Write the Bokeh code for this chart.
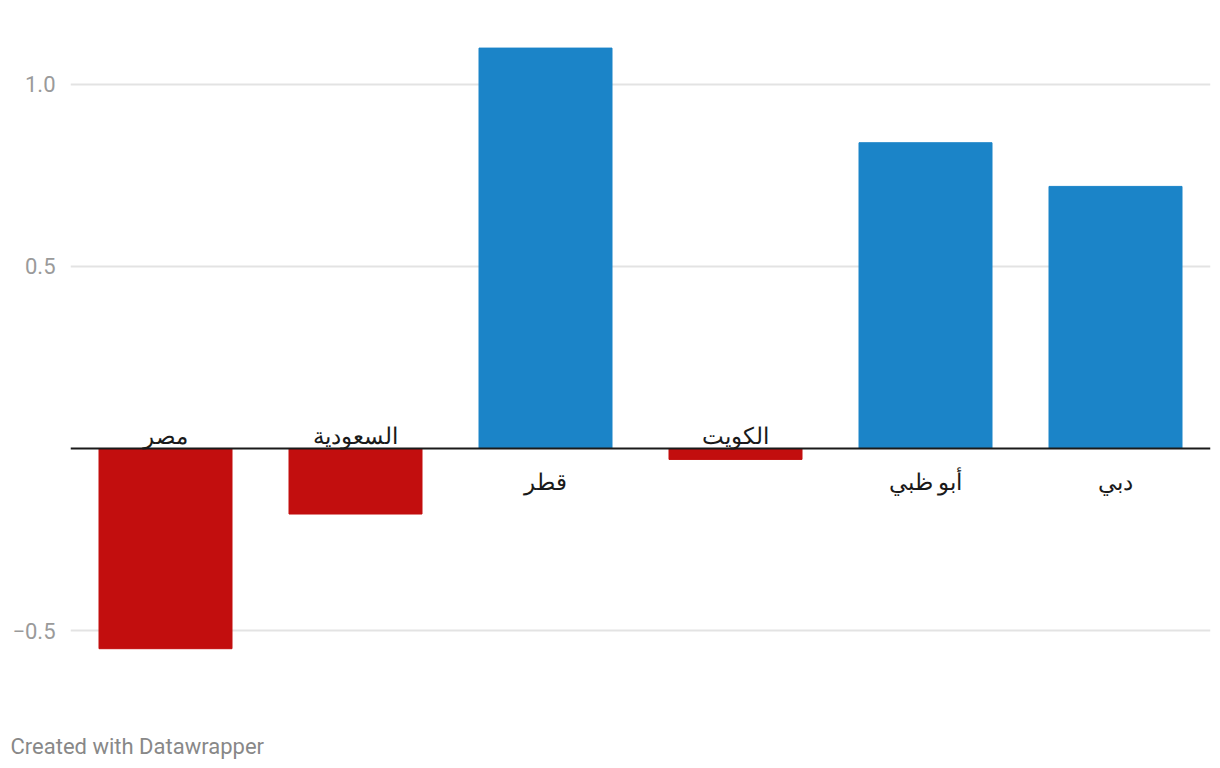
from bokeh.plotting import figure
from bokeh.models import ColumnDataSource, FactorRange, Range1d, FixedTicker, Span, Title, CustomJSTickFormatter
from bokeh.core.properties import value
from bokeh.embed import file_html
from bokeh.resources import INLINE

categories = ["مصر", "السعودية", "قطر", "الكويت", "أبو ظبي", "دبي"]
values = [-0.55, -0.18, 1.10, -0.03, 0.84, 0.72]
y_ticks = [-0.5, 0.5, 1.0]

BLUE = "#1b84c8"
RED = "#c20e0e"

colors = [RED if v < 0 else BLUE for v in values]
label_offsets = [-13 if v < 0 else 33 for v in values]

src = ColumnDataSource(dict(cat=categories, val=values, color=colors, yoff=label_offsets,
                            zero=[0] * len(values)))

p = figure(width=1220, height=768, x_range=FactorRange(*categories, range_padding=0),
           y_range=Range1d(-0.6923, 1.1758), output_backend="svg", toolbar_location=None,
           min_border_left=70, min_border_right=10, min_border_top=20, min_border_bottom=68)
p.outline_line_color = None
p.background_fill_color = "white"
p.border_fill_color = "white"

p.vbar(x="cat", top="val", bottom=0, width=0.7, color="color", source=src)

p.add_layout(Span(location=0, dimension="width", line_color="#1a1a1a", line_width=2))

p.text(x="cat", y="zero", text="cat", y_offset="yoff", source=src,
       text_align="center", text_baseline="middle", text_font_size="23px",
       text_color="#1a1a1a", text_font=value("Noto Sans"))

p.xaxis.visible = False
p.xgrid.visible = False
p.ygrid.ticker = FixedTicker(ticks=y_ticks)
p.ygrid.grid_line_color = "#e3e3e3"
p.ygrid.grid_line_width = 2

ax = p.yaxis[0]
ax.ticker = FixedTicker(ticks=y_ticks)
ax.axis_line_color = None
ax.major_tick_line_color = None
ax.minor_tick_line_color = None
ax.major_label_text_color = "#9a9a9a"
ax.major_label_text_font = "Roboto"
ax.major_label_text_font_size = "22px"
ax.major_label_standoff = 9
ax.formatter = CustomJSTickFormatter(code="return tick < 0 ? '\u2212' + Math.abs(tick).toFixed(1) : tick.toFixed(1);")

footer = Title(text="\nCreated with Datawrapper", align="left", offset=-60, text_font="Roboto",
               text_font_size="22px", text_font_style="normal", text_color="#888888", standoff=12)
p.add_layout(footer, "below")

open("out.html", "w").write(file_html(p, INLINE))
